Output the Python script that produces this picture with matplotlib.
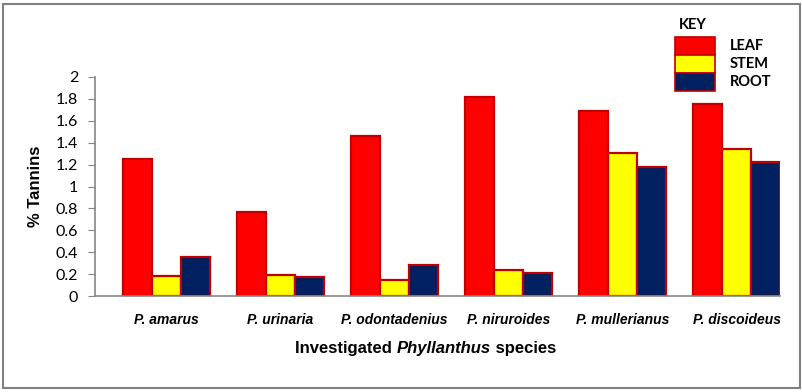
import numpy as np
import matplotlib.pyplot as plt
from matplotlib.patches import Rectangle

species = ['P. amarus', 'P. urinaria', 'P. odontadenius',
           'P. niruroides', 'P. mullerianus', 'P. discoideus']
leaf = [1.25, 0.77, 1.46, 1.82, 1.69, 1.75]
stem = [0.18, 0.19, 0.15, 0.24, 1.31, 1.34]
root = [0.36, 0.17, 0.28, 0.21, 1.18, 1.22]
yticks = [0, 0.2, 0.4, 0.6, 0.8, 1, 1.2, 1.4, 1.6, 1.8, 2]
ytick_labels = ['0', '0.2', '0.4', '0.6', '0.8', '1', '1.2', '1.4', '1.6', '1.8', '2']
keys = ['LEAF', 'STEM', 'ROOT']

arial = ['Liberation Sans', 'DejaVu Sans']
plt.rcParams['font.family'] = ['Lato', 'DejaVu Sans']

fig = plt.figure(figsize=(8.03, 3.92), dpi=100)
ax = fig.add_axes([95/803, 96/392, 685/803, 219/392])

x = np.arange(len(species))
w = 0.254
colors = ['#FF0000', '#FFFF00', '#002060']
ax.bar(x - w, leaf, w, color=colors[0], edgecolor='#C00000', linewidth=1.6)
ax.bar(x, stem, w, color=colors[1], edgecolor='#C00000', linewidth=1.6)
ax.bar(x + w, root, w, color=colors[2], edgecolor='#C00000', linewidth=1.6)

ax.set_xlim(-0.628, 5.38)
ax.set_ylim(0, 2)
ax.set_yticks(yticks)
ax.set_yticklabels(ytick_labels, fontsize=11.5)
ax.tick_params(axis='y', color='#868686', length=5, pad=7)

# species names under each group
ax.set_xticks(x)
ax.set_xticklabels(species, fontsize=10, fontweight='bold', fontstyle='italic', family=arial)
ax.tick_params(axis='x', length=0, pad=12)

for s in ['top', 'right']:
    ax.spines[s].set_visible(False)
for s in ['left', 'bottom']:
    ax.spines[s].set_color('#868686')
    ax.spines[s].set_linewidth(1.2)

ax.set_ylabel('% Tannins', fontsize=12, fontweight='bold', labelpad=9, family=arial)

# x axis title with the genus in italics
mid = fig.text(444/803, 1 - 348/392, 'Phyllanthus', ha='center', va='center',
               fontsize=12, fontweight='bold', fontstyle='italic', family=arial)
ax.annotate('Investigated ', xy=(0, 0.5), xycoords=mid, ha='right', va='center',
            fontsize=12, fontweight='bold', family=arial)
ax.annotate(' species', xy=(1, 0.5), xycoords=mid, ha='left', va='center',
            fontsize=12, fontweight='bold', family=arial)

# key in the upper right corner
fig.text(693/803, 1 - 25/392, 'KEY', ha='center', va='center', fontsize=10.5, fontweight='bold')
for i, (k, c) in enumerate(zip(keys, colors)):
    y0 = 1 - (37 + 18*(i + 1))/392
    fig.patches.append(Rectangle((675/803, y0), 40/803, 18/392, transform=fig.transFigure,
                                 facecolor=c, edgecolor='#C00000', linewidth=1.2))
    fig.text(730/803, y0 + 9/392, k, ha='left', va='center', fontsize=10.5, fontweight='bold')

# grey frame round the whole chart
fig.patches.append(Rectangle((3/803, 4/392), 797/803, 384/392, transform=fig.transFigure,
                             fill=False, edgecolor='#808080', linewidth=1.5))

plt.savefig('out.png', dpi=100)
